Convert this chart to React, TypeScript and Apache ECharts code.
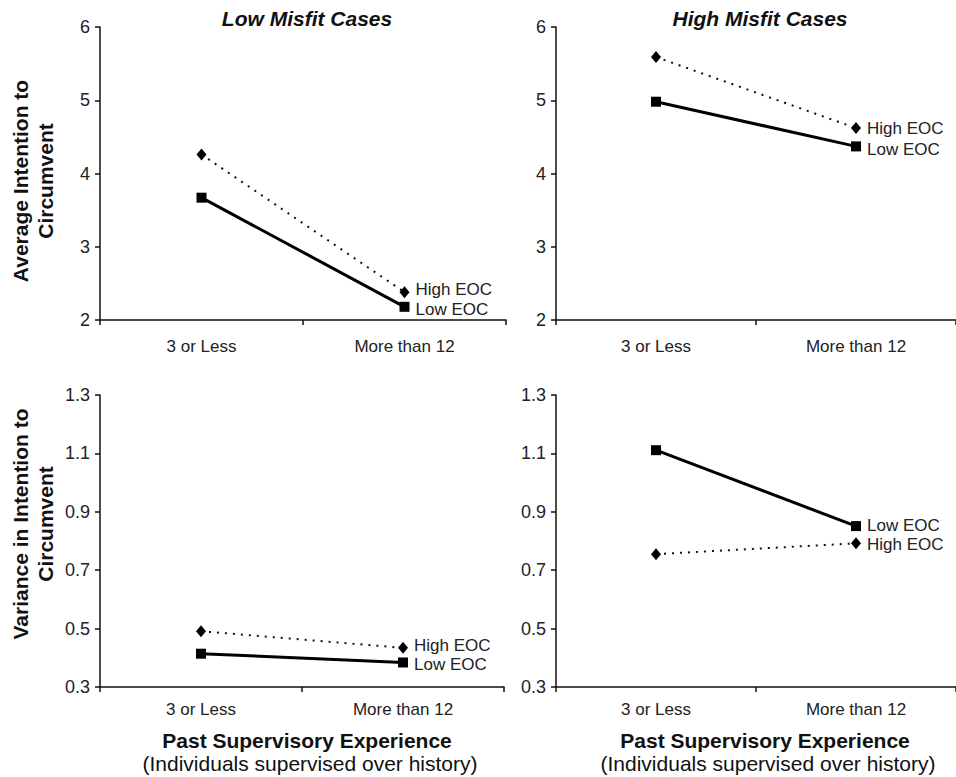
import React, { useEffect, useRef } from "react";
import * as echarts from "echarts";

const categories = ["3 or Less", "More than 12"];
const panelTitles = ["Low Misfit Cases", "High Misfit Cases"];
const topYName = "Average Intention to\nCircumvent";
const bottomYName = "Variance in Intention to\nCircumvent";
const xName = "Past Supervisory Experience";
const xSubName = "(Individuals supervised over history)";

// Top row: average intention
const avgLowMisfitLowEOC = [3.67, 2.18];
const avgLowMisfitHighEOC = [4.26, 2.38];
const avgHighMisfitLowEOC = [4.98, 4.37];
const avgHighMisfitHighEOC = [5.59, 4.62];

// Bottom row: variance
const varLowMisfitLowEOC = [0.414, 0.384];
const varLowMisfitHighEOC = [0.491, 0.434];
const varHighMisfitLowEOC = [1.111, 0.851];
const varHighMisfitHighEOC = [0.755, 0.792];

const topTicks = [2, 3, 4, 5, 6];
const bottomTicks = [0.3, 0.5, 0.7, 0.9, 1.1, 1.3];

const FONT = "'Liberation Sans', Arial, sans-serif";
const INK = "#111";

export default function App() {
  const ref = useRef<HTMLDivElement>(null);

  useEffect(() => {
    if (!ref.current) return;
    const chart = echarts.init(ref.current, undefined, { renderer: "svg" });

    const grids = [
      { left: 100, top: 27, width: 406, height: 293 },
      { left: 556, top: 27, width: 406, height: 293 },
      { left: 100, top: 395, width: 404, height: 292 },
      { left: 556, top: 395, width: 404, height: 292 },
    ];

    const xAxes = grids.map((_, i) => ({
      type: "category",
      gridIndex: i,
      data: categories,
      boundaryGap: true,
      axisLine: { lineStyle: { color: INK, width: 1.5 } },
      axisTick: { show: true, length: 5, lineStyle: { color: INK, width: 1.5 } },
      axisLabel: {
        color: "#222",
        fontSize: 17,
        fontFamily: FONT,
        margin: i < 2 ? 18 : 14,
      },
      splitLine: { show: false },
    }));

    const yAxes = grids.map((_, i) => {
      const top = i < 2;
      const ticks = top ? topTicks : bottomTicks;
      return {
        type: "value",
        gridIndex: i,
        min: top ? 2 : 0.3,
        max: top ? 6 : 1.3,
        axisLine: { show: true, lineStyle: { color: INK, width: 1.5 } },
        axisTick: { show: true, length: 5, customValues: ticks, lineStyle: { color: INK, width: 1.5 } },
        axisLabel: {
          customValues: ticks,
          color: "#222",
          fontSize: 18,
          fontFamily: FONT,
          margin: 10,
          formatter: (v: number) => (top ? String(Math.round(v)) : v.toFixed(1)),
        },
        splitLine: { show: false },
      };
    });

    const panelData = [
      [avgLowMisfitLowEOC, avgLowMisfitHighEOC],
      [avgHighMisfitLowEOC, avgHighMisfitHighEOC],
      [varLowMisfitLowEOC, varLowMisfitHighEOC],
      [varHighMisfitLowEOC, varHighMisfitHighEOC],
    ];
    const lowLabelOffset = [[0, 2.5], [0, 3], [0, 2.5], [0, -1]];
    const highLabelOffset = [[0, -2.5], [0, 0], [0, -2.5], [0, 1]];

    const series: any[] = [];
    panelData.forEach(([low, high], i) => {
      const mk = (vals: number[], name: string, offset: number[]) =>
        vals.map((v, j) =>
          j === vals.length - 1
            ? {
                value: v,
                label: {
                  show: true,
                  position: "right",
                  distance: 6,
                  offset,
                  formatter: name,
                  color: "#222",
                  fontSize: 17,
                  lineHeight: 17,
                  fontFamily: FONT,
                },
              }
            : v
        );
      series.push({
        type: "line",
        name: "Low EOC",
        xAxisIndex: i,
        yAxisIndex: i,
        data: mk(low, "Low EOC", lowLabelOffset[i]),
        symbol: "rect",
        symbolSize: 10,
        lineStyle: { color: "#000", width: 3, type: "solid" },
        itemStyle: { color: "#000" },
        emphasis: { disabled: true },
        z: 3,
      });
      series.push({
        type: "line",
        name: "High EOC",
        xAxisIndex: i,
        yAxisIndex: i,
        data: mk(high, "High EOC", highLabelOffset[i]),
        symbol: "diamond",
        symbolSize: [10, 12],
        lineStyle: { color: "#111", width: 2, type: [2, 6] },
        itemStyle: { color: "#000" },
        emphasis: { disabled: true },
        z: 2,
      });
    });

    const txt = (
      x: number,
      y: number,
      text: string,
      size: number,
      weight: string,
      fstyle: string,
      rotation = 0
    ) => ({
      type: "text",
      x,
      y,
      rotation,
      style: {
        text,
        fontSize: size,
        fontWeight: weight,
        fontStyle: fstyle,
        fontFamily: FONT,
        fill: "#111",
        align: "center",
        verticalAlign: "middle",
        lineHeight: 25,
      },
    });

    chart.setOption({
      animation: false,
      backgroundColor: "#fff",
      grid: grids,
      xAxis: xAxes,
      yAxis: yAxes,
      series,
      graphic: [
        txt(307, 18, panelTitles[0], 21, "bold", "italic"),
        txt(760, 18, panelTitles[1], 21, "bold", "italic"),
        txt(33, 181, topYName, 21, "bold", "normal", Math.PI / 2),
        txt(33, 524, bottomYName, 21, "bold", "normal", Math.PI / 2),
        txt(307, 740, xName, 21, "bold", "normal"),
        txt(310, 763, xSubName, 21, "normal", "normal"),
        txt(765, 740, xName, 21, "bold", "normal"),
        txt(768, 763, xSubName, 21, "normal", "normal"),
      ],
    });

    return () => chart.dispose();
  }, []);

  return (
    <div
      ref={ref}
      style={{ position: "fixed", left: 0, top: 0, width: 956, height: 777 }}
    />
  );
}
